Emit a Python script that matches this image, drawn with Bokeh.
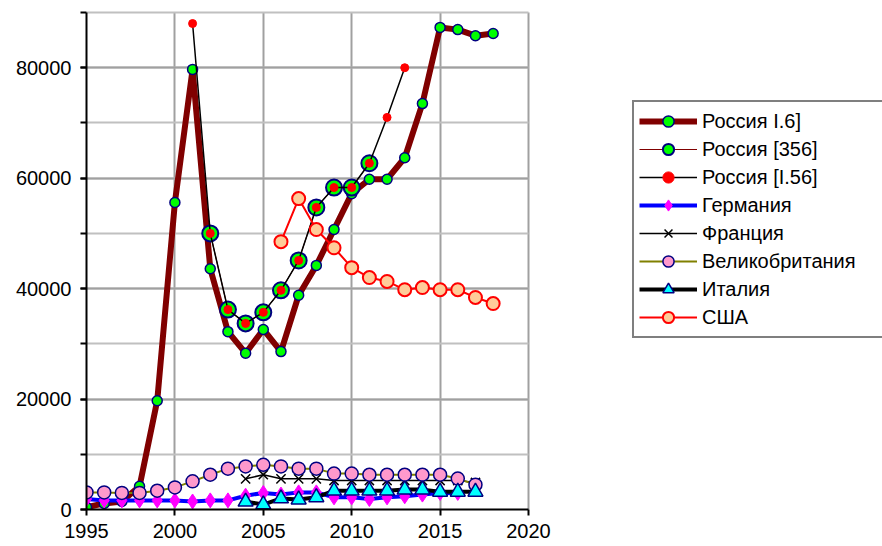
from bokeh.plotting import figure
from bokeh.models import Legend, LegendItem, SingleIntervalTicker, FixedTicker, Range1d
from bokeh.embed import file_html
from bokeh.resources import INLINE

# ---------------- data ----------------
years_ru6 = list(range(1995, 2019))
ru6 = [400, 1100, 1450, 4200, 19700, 55600, 79700, 43600, 32200, 28300, 32600, 28600,
       38800, 44200, 50700, 57200, 59800, 59800, 63700, 73500, 87300, 86900, 85800, 86200]

years_ru356 = list(range(2002, 2012))
ru356 = [50000, 36200, 33700, 35700, 39700, 45100, 54700, 58300, 58300, 62700]

years_rui56 = list(range(2001, 2014))
rui56 = [88000, 50000, 36200, 33700, 35700, 39700, 45100, 54700, 58300, 58300, 62700, 71000, 80000]

years_de = list(range(1995, 2017))
germany = [1900, 1650, 1650, 1650, 1650, 1650, 1450, 1650, 1650, 2500, 3000, 2700, 3100, 3100,
           2200, 2200, 1900, 2200, 2400, 2700, 3000, 3000]

years_fr = list(range(2004, 2018))
france = [5550, 6300, 5550, 5550, 5550, 5250, 5250, 5250, 5250, 5250, 5250, 5250, 5250, 4900]

years_uk = list(range(1995, 2018))
uk = [3100, 3100, 3000, 3000, 3400, 4000, 5100, 6300, 7400, 7800, 8100, 7800, 7400, 7400,
      6500, 6500, 6300, 6300, 6300, 6300, 6300, 5600, 4500]

years_it = list(range(2004, 2018))
italy = [1400, 900, 2000, 1800, 2200, 3400, 3400, 3400, 3400, 3600, 3600, 3200, 3200, 3200]

years_us = list(range(2006, 2019))
usa = [48500, 56300, 50700, 47400, 43800, 42000, 41300, 39800, 40200, 39800, 39800, 38400, 37300]

labels = ["Россия I.6]", "Россия [356]", "Россия [I.56]", "Германия", "Франция",
          "Великобритания", "Италия", "США"]

x_ticks = [1995, 2000, 2005, 2010, 2015, 2020]
X0, X1 = 1995, 2020
Y0, Y1 = 0, 90000

FONT = "Liberation Sans"

# layout: data area spans pixels 86..528 x 12..509; the frame continues to the right edge
# (for the legend) and 2px above the top so the top border line is fully visible
W, H = 882, 546
LEFT, TOP, BOTTOM = 86, 10, 37
AREA_RIGHT, AREA_TOP, AREA_BOTTOM = 528, 12, 509
x_end = X0 + (X1 - X0) * (W - LEFT) / (AREA_RIGHT - LEFT)
y_end = Y1 + (Y1 - Y0) * (AREA_TOP - TOP) / (AREA_BOTTOM - AREA_TOP)

p = figure(width=W, height=H, x_range=Range1d(X0, x_end), y_range=Range1d(Y0, y_end),
           output_backend="svg", toolbar_location=None,
           min_border_left=LEFT, min_border_top=TOP, min_border_right=0, min_border_bottom=BOTTOM)
p.background_fill_color = "white"
p.border_fill_color = "white"
p.outline_line_color = None

p.xaxis.ticker = FixedTicker(ticks=x_ticks)
p.xaxis.bounds = (X0, X1)
p.yaxis.ticker = SingleIntervalTicker(interval=20000, num_minor_ticks=2)
p.yaxis.bounds = (Y0, Y1)
for ax in (p.xaxis, p.yaxis):
    ax.axis_line_color = "black"
    ax.axis_line_width = 2
    ax.major_tick_line_color = "black"
    ax.major_tick_line_width = 2
    ax.major_tick_in = 0
    ax.major_tick_out = 6
    ax.minor_tick_line_color = "black"
    ax.minor_tick_line_width = 2
    ax.minor_tick_in = 0
    ax.minor_tick_out = 6
    ax.major_label_text_font = FONT
    ax.major_label_text_font_size = "20px"
    ax.major_label_text_color = "black"
p.xaxis.major_label_standoff = 8
p.yaxis.major_label_standoff = 9

p.xgrid.grid_line_color = "#a0a0a0"
p.xgrid.grid_line_width = 2
p.xgrid.bounds = (X0, X1)
p.xgrid.cross_bounds = (Y0, Y1)
p.ygrid.grid_line_color = "#a0a0a0"
p.ygrid.grid_line_width = 2
p.ygrid.minor_grid_line_color = "#c0c0c0"
p.ygrid.minor_grid_line_width = 2
p.ygrid.bounds = (Y0, Y1)
p.ygrid.cross_bounds = (X0, X1)

# ---------------- series ----------------
r1l = p.line(years_ru6, ru6, line_color="#800000", line_width=6)
r1s = p.scatter(years_ru6, ru6, marker="circle", size=10, fill_color="#00ff00",
                line_color="#000080", line_width=1.5)

r2l = p.line(years_ru356, ru356, line_color="#800000", line_width=1)
r2s = p.scatter(years_ru356, ru356, marker="circle", size=16, fill_color="#00ff00",
                line_color="#000080", line_width=2)

r3l = p.line(years_rui56, rui56, line_color="black", line_width=1.5)
r3s = p.scatter(years_rui56, rui56, marker="circle", size=8, fill_color="#ff0000",
                line_color="#ff0000", line_width=1)

r4l = p.line(years_de, germany, line_color="#0000ff", line_width=4)
r4s = p.scatter(years_de, germany, marker="diamond", size=15, fill_color="#ff00ff",
                line_color="#ff00ff", line_width=1)

r5l = p.line(years_fr, france, line_color="black", line_width=1.5)
r5s = p.scatter(years_fr, france, marker="x", size=13, line_color="black", line_width=1.5)

r6l = p.line(years_uk, uk, line_color="#808000", line_width=2)
r6s = p.scatter(years_uk, uk, marker="circle", size=13, fill_color="#ff99cc",
                line_color="#000080", line_width=1.5)

r7l = p.line(years_it, italy, line_color="black", line_width=4)
r7s = p.scatter(years_it, italy, marker="triangle", size=15, fill_color="#00ffff",
                line_color="#000080", line_width=1.5)

r8l = p.line(years_us, usa, line_color="#ff0000", line_width=2)
r8s = p.scatter(years_us, usa, marker="circle", size=13, fill_color="#ffcc99",
                line_color="#ff0000", line_width=2)

rends = [(r1l, r1s), (r2l, r2s), (r3l, r3s), (r4l, r4s), (r5l, r5s), (r6l, r6s),
         (r7l, r7s), (r8l, r8s)]
items = [LegendItem(label=lab, renderers=list(rr)) for lab, rr in zip(labels, rends)]

legend = Legend(items=items, location=(546, 171), margin=0, padding=5, spacing=0,
                glyph_width=58, glyph_height=28, label_height=20, label_width=200,
                label_standoff=5,
                label_text_font=FONT, label_text_font_size="20px", label_text_color="black",
                border_line_color="black", border_line_width=2,
                background_fill_color="white", background_fill_alpha=1.0)
p.add_layout(legend, "center")

open("out.html", "w").write(file_html(p, INLINE))
